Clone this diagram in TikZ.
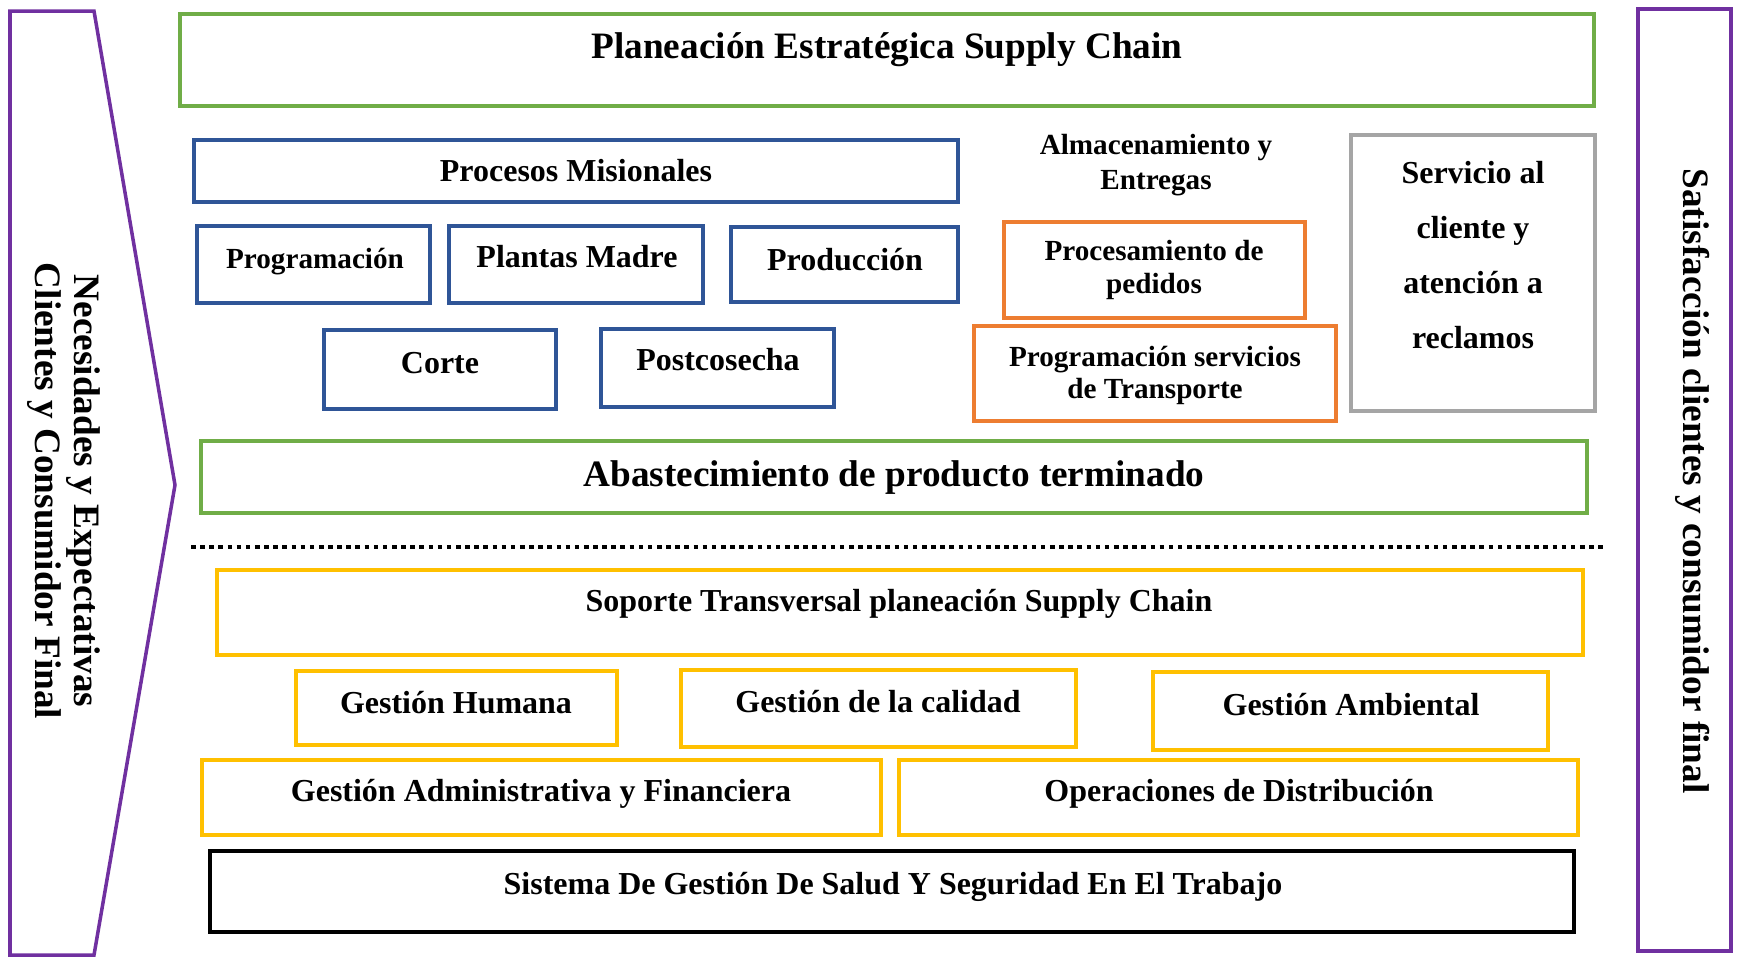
\documentclass[tikz,border=0pt]{standalone}
\usepackage{fontspec}
\setmainfont{Liberation Serif}
\usepackage{tikz}
\usetikzlibrary{positioning}

\definecolor{verde}{HTML}{70AD47}
\definecolor{azul}{HTML}{2F5597}
\definecolor{naranja}{HTML}{ED7D31}
\definecolor{gris}{HTML}{A5A5A5}
\definecolor{amarillo}{HTML}{FFC000}
\definecolor{morado}{HTML}{7030A0}

\begin{document}
\begin{tikzpicture}[
  caja/.style={line width=1pt},
  txt/.style={font=\bfseries\fontsize{9.1}{10}\selectfont, align=center, inner sep=0pt, text height=1.5ex, text depth=0.25ex},
  txtg/.style={font=\bfseries\fontsize{10.6}{11.1}\selectfont, align=center, inner sep=0pt},
  txtp/.style={font=\bfseries\fontsize{8.3}{9.4}\selectfont, align=center, inner sep=0pt}
]
\useasboundingbox (0,0) rectangle (17.39,-9.57);

% lados
\draw[caja, morado] (0.10,-0.11) -- (0.94,-0.11) -- (1.75,-4.85) -- (0.94,-9.55) -- (0.10,-9.55) -- cycle;
\node[txtg, rotate=-90] (necesidades) at (0.635,-4.91) {Necesidades y Expectativas\\Clientes y Consumidor Final};
\draw[caja, morado] (16.38,-0.09) rectangle (17.31,-9.51);
\node[txtg, rotate=-90] (satisfaccion) at (16.93,-4.81) {Satisfacción clientes y consumidor final};

% planeacion
\draw[caja, verde] (1.80,-0.14) rectangle (15.94,-1.06);
\node[txtg] (planeacion) at (8.87,-0.50) {Planeación Estratégica Supply Chain};

% procesos misionales
\draw[caja, azul] (1.94,-1.40) rectangle (9.58,-2.02);
\node[txt] (misionales) at (5.76,-1.71) {Procesos Misionales};
\draw[caja, azul] (1.97,-2.26) rectangle (4.30,-3.03);
\node[txtp, text height=1.5ex, text depth=0.25ex] (programacion) at (3.15,-2.58) {Programación};
\draw[caja, azul] (4.49,-2.26) rectangle (7.03,-3.03);
\node[txt] (plantas) at (5.77,-2.57) {Plantas Madre};
\draw[caja, azul] (7.31,-2.27) rectangle (9.58,-3.02);
\node[txt] (produccion) at (8.45,-2.60) {Producción};
\draw[caja, azul] (3.24,-3.30) rectangle (5.56,-4.09);
\node[txt] (corte) at (4.40,-3.63) {Corte};
\draw[caja, azul] (6.01,-3.29) rectangle (8.34,-4.07);
\node[txt] (postcosecha) at (7.18,-3.60) {Postcosecha};

% almacenamiento y entregas
\node[txtp, font=\bfseries\fontsize{8.3}{10}\selectfont] (almacenamiento) at (11.56,-1.65) {Almacenamiento y\\Entregas};
\draw[caja, naranja] (10.04,-2.22) rectangle (13.05,-3.18);
\node[txtp] (pedidos) at (11.54,-2.70) {Procesamiento de\\pedidos};
\draw[caja, naranja] (9.74,-3.26) rectangle (13.36,-4.21);
\node[txtp, font=\bfseries\fontsize{8.3}{9.1}\selectfont] (transporte) at (11.55,-3.75) {Programación servicios\\de Transporte};

% servicio al cliente
\draw[caja, gris, line width=1.2pt] (13.51,-1.35) rectangle (15.95,-4.11);
\node[txt, text height=, text depth=, font=\bfseries\fontsize{9.1}{15.6}\selectfont] (servicio) at (14.73,-2.55) {Servicio al\\cliente y\\atención a\\reclamos};

% abastecimiento
\draw[caja, verde] (2.01,-4.41) rectangle (15.87,-5.13);
\node[txtg] (abastecimiento) at (8.94,-4.78) {Abastecimiento de producto terminado};

\draw[line width=1.3pt, dash pattern=on 1.3pt off 1.3pt] (1.91,-5.47) -- (16.03,-5.47);

% soporte
\draw[caja, amarillo] (2.17,-5.70) rectangle (15.83,-6.55);
\node[txt] (soporte) at (8.99,-6.01) {Soporte Transversal planeación Supply Chain};
\draw[caja, amarillo] (2.96,-6.71) rectangle (6.17,-7.45);
\node[txt] (humana) at (4.56,-7.03) {Gestión Humana};
\draw[caja, amarillo] (6.81,-6.70) rectangle (10.76,-7.47);
\node[txt] (calidad) at (8.78,-7.02) {Gestión de la calidad};
\draw[caja, amarillo] (11.53,-6.72) rectangle (15.48,-7.50);
\node[txt] (ambiental) at (13.51,-7.05) {Gestión Ambiental};
\draw[caja, amarillo] (2.02,-7.60) rectangle (8.81,-8.35);
\node[txt] (administrativa) at (5.41,-7.91) {Gestión Administrativa y Financiera};
\draw[caja, amarillo] (8.99,-7.60) rectangle (15.78,-8.35);
\node[txt] (distribucion) at (12.39,-7.91) {Operaciones de Distribución};

% sst
\draw[caja, black] (2.10,-8.51) rectangle (15.74,-9.32);
\node[txt] (sst) at (8.93,-8.84) {Sistema De Gestión De Salud Y Seguridad En El Trabajo};

\end{tikzpicture}
\end{document}
